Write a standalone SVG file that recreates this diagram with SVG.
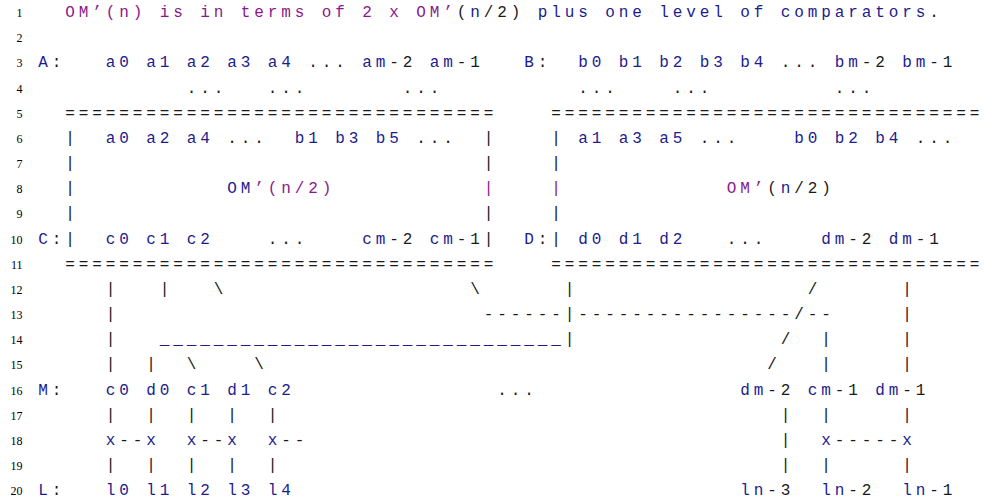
<svg xmlns="http://www.w3.org/2000/svg" width="986" height="504" viewBox="0 0 986 504" xml:space="preserve">
<style>
text{font-family:"Liberation Mono","DejaVu Sans Mono",monospace;font-size:16px;letter-spacing:3.9px;fill:#1a1a1a}
.b{fill:#1c1c8e}
.p{fill:#8a1a8a}
.ln{font-family:"Liberation Serif","DejaVu Serif",serif;font-size:12px;letter-spacing:0;text-anchor:end;fill:#000}
</style>
<rect width="986" height="504" fill="#fff"/>
<g id="line-numbers">
<text class="ln" x="22.5" y="17">1</text><text class="ln" x="22.5" y="42.17">2</text><text class="ln" x="22.5" y="67.34">3</text><text class="ln" x="22.5" y="92.51">4</text><text class="ln" x="22.5" y="117.68">5</text><text class="ln" x="22.5" y="142.85">6</text><text class="ln" x="22.5" y="168.02">7</text><text class="ln" x="22.5" y="193.19">8</text><text class="ln" x="22.5" y="218.36">9</text><text class="ln" x="22.5" y="243.53">10</text><text class="ln" x="22.5" y="268.7">11</text><text class="ln" x="22.5" y="293.87">12</text><text class="ln" x="22.5" y="319.04">13</text><text class="ln" x="22.5" y="344.21">14</text><text class="ln" x="22.5" y="369.38">15</text><text class="ln" x="22.5" y="394.55">16</text><text class="ln" x="22.5" y="419.72">17</text><text class="ln" x="22.5" y="444.89">18</text><text class="ln" x="22.5" y="470.06">19</text><text class="ln" x="22.5" y="495.23">20</text>
</g>
<g id="line-1" transform="translate(-0.3,17)">
<text class="p" x="65.5">OM’(n) is in terms of 2 x OM’</text><text x="457">(</text><text class="b" x="470.5">n</text><text x="484">/2)</text><text class="b" x="538">plus one level of comparators</text><text x="929.5">.</text>
</g>
<g id="line-3" transform="translate(-0.3,67.34)">
<text class="b" x="38.5">A</text><text x="52">:</text><text class="b" x="106">a0 a1 a2 a3 a4</text><text x="308.5">...</text><text class="b" x="362.5">am</text><text x="389.5">-2</text><text class="b" x="430">am</text><text x="457">-1</text><text class="b" x="524.5">B</text><text x="538">:</text><text class="b" x="578.5">b0 b1 b2 b3 b4</text><text x="781">...</text><text class="b" x="835">bm</text><text x="862">-2</text><text class="b" x="902.5">bm</text><text x="929.5">-1</text>
</g>
<g id="line-4" transform="translate(-0.3,92.51)">
<text x="187">...</text><text x="268">...</text><text x="403">...</text><text x="578.5">...</text><text x="673">...</text><text x="835">...</text>
</g>
<g id="line-5" transform="translate(-0.3,117.68)">
<text x="65.5">================================</text><text x="551.5">================================</text>
</g>
<g id="line-6" transform="translate(-0.3,142.85)">
<text x="65.5">|</text><text class="b" x="106">a0 a2 a4</text><text x="227.5">...</text><text class="b" x="295">b1 b3 b5</text><text x="416.5">...</text><text x="484">|</text><text x="551.5">|</text><text class="b" x="578.5">a1 a3 a5</text><text x="700">...</text><text class="b" x="794.5">b0 b2 b4</text><text x="916">...</text>
</g>
<g id="line-7" transform="translate(-0.3,168.02)">
<text x="65.5">|</text><text x="484">|</text><text x="551.5">|</text>
</g>
<g id="line-8" transform="translate(-0.3,193.19)">
<text x="65.5">|</text><text class="b" x="227.5">OM</text><text class="p" x="254.5">’(n/2)</text><text class="p" x="484">|</text><text class="p" x="551.5">|</text><text class="p" x="727">OM’</text><text x="767.5">(</text><text class="b" x="781">n</text><text x="794.5">/2)</text>
</g>
<g id="line-9" transform="translate(-0.3,218.36)">
<text x="65.5">|</text><text x="484">|</text><text x="551.5">|</text>
</g>
<g id="line-10" transform="translate(-0.3,243.53)">
<text class="b" x="38.5">C</text><text x="52">:|</text><text class="b" x="106">c0 c1 c2</text><text x="268">...</text><text class="b" x="362.5">cm</text><text x="389.5">-2</text><text class="b" x="430">cm</text><text x="457">-1|</text><text class="b" x="524.5">D</text><text x="538">:|</text><text class="b" x="578.5">d0 d1 d2</text><text x="727">...</text><text class="b" x="821.5">dm</text><text x="848.5">-2</text><text class="b" x="889">dm</text><text x="916">-1</text>
</g>
<g id="line-11" transform="translate(-0.3,268.7)">
<text x="65.5">================================</text><text x="551.5">================================</text>
</g>
<g id="connectors">
<g id="line-12" transform="translate(-0.3,293.87)">
<text x="106">|</text><text x="160">|</text><text x="214">\</text><text x="470.5">\</text><text x="565">|</text><text x="808">/</text><text x="902.5">|</text>
</g>
<g id="line-13" transform="translate(-0.3,319.04)">
<text x="106">|</text><text x="484">------|----------------/--</text><text x="902.5">|</text>
</g>
<g id="line-14" transform="translate(-0.3,344.21)">
<text x="106">|</text><text class="b" x="160">______________________________</text><text x="565">|</text><text x="781">/</text><text x="821.5">|</text><text x="902.5">|</text>
</g>
<g id="line-15" transform="translate(-0.3,369.38)">
<text x="106">|</text><text x="146.5">|</text><text x="187">\</text><text x="254.5">\</text><text x="767.5">/</text><text x="821.5">|</text><text x="902.5">|</text>
</g>
</g>
<g id="line-16" transform="translate(-0.3,394.55)">
<text class="b" x="38.5">M</text><text x="52">:</text><text class="b" x="106">c0 d0 c1 d1 c2</text><text x="497.5">...</text><text class="b" x="740.5">dm</text><text x="767.5">-2</text><text class="b" x="808">cm</text><text x="835">-1</text><text class="b" x="875.5">dm</text><text x="902.5">-1</text>
</g>
<g id="line-17" transform="translate(-0.3,419.72)">
<text x="106">|</text><text x="146.5">|</text><text x="187">|</text><text x="227.5">|</text><text x="268">|</text><text x="781">|</text><text x="821.5">|</text><text x="902.5">|</text>
</g>
<g id="line-18" transform="translate(-0.3,444.89)">
<text class="b" x="106">x</text><text x="119.5">--</text><text class="b" x="146.5">x</text><text class="b" x="187">x</text><text x="200.5">--</text><text class="b" x="227.5">x</text><text class="b" x="268">x</text><text x="281.5">--</text><text x="781">|</text><text class="b" x="821.5">x</text><text x="835">-----</text><text class="b" x="902.5">x</text>
</g>
<g id="line-19" transform="translate(-0.3,470.06)">
<text x="106">|</text><text x="146.5">|</text><text x="187">|</text><text x="227.5">|</text><text x="268">|</text><text x="781">|</text><text x="821.5">|</text><text x="902.5">|</text>
</g>
<g id="line-20" transform="translate(-0.3,495.23)">
<text class="b" x="38.5">L</text><text x="52">:</text><text class="b" x="106">l0 l1 l2 l3 l4</text><text class="b" x="740.5">ln</text><text x="767.5">-3</text><text class="b" x="821.5">ln</text><text x="848.5">-2</text><text class="b" x="902.5">ln</text><text x="929.5">-1</text>
</g>
</svg>
